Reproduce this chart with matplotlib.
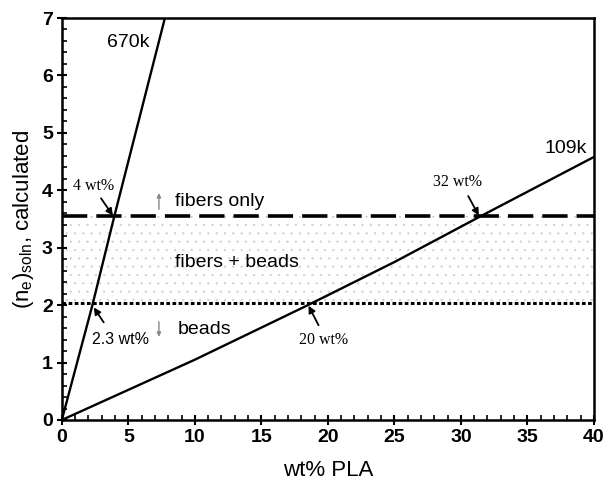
import numpy as np
import matplotlib.pyplot as plt
from matplotlib.ticker import MultipleLocator

# data
wt_670k = [0, 2.3, 3.95, 7.75]
ne_670k = [0, 2.0, 3.55, 7.0]

wt_109k = [0, 10, 18.5, 25, 31.5, 40]
ne_109k = [0, 1.05, 2.0, 2.75, 3.55, 4.58]

ne_fibers = 3.55   # fibers only above
ne_beads = 2.03    # beads below

# crossing labels: text, text position, arrow start, arrow tip
cross_txt = ["4 wt%", "32 wt%", "2.3 wt%", "20 wt%"]
cross_pos = [(2.4, 4.07), (29.75, 4.15), (4.4, 1.40), (19.7, 1.40)]
cross_from = [(2.95, 3.86), (30.55, 3.90), (3.15, 1.70), (19.3, 1.65)]
cross_to = [(3.84, 3.56), (31.35, 3.56), (2.4, 1.96), (18.55, 1.99)]

plt.rcParams['font.family'] = ['Liberation Sans', 'DejaVu Sans']
plt.rcParams['hatch.linewidth'] = 0.4

fig = plt.figure(figsize=(6.06, 4.8), dpi=100)
ax = fig.add_axes([0.102, 0.125, 0.878, 0.8375])

# speckled band between the two limits
ax.fill_between([0, 40], ne_beads, ne_fibers, facecolor='white',
                edgecolor='#cfcfcf', hatch='..', linewidth=0)

ax.plot([0, 40], [ne_fibers, ne_fibers], color='black', lw=2.6,
        dashes=(7, 2.5))
ax.plot([0, 40], [ne_beads, ne_beads], color='black', lw=2.2,
        dashes=(1.2, 0.8))

ax.plot(wt_670k, ne_670k, color='black', lw=1.7)
ax.plot(wt_109k, ne_109k, color='black', lw=1.7)

ax.text(5.0, 6.57, "670k", fontsize=14, ha='center', va='center')
ax.text(37.9, 4.73, "109k", fontsize=14, ha='center', va='center')
ax.text(11.85, 3.80, "fibers only", fontsize=14, ha='center', va='center')
ax.text(13.2, 2.75, "fibers + beads", fontsize=14, ha='center', va='center')
ax.text(10.7, 1.58, "beads", fontsize=14, ha='center', va='center')

serif = ['Liberation Serif', 'DejaVu Serif']
arr = dict(arrowstyle='-|>', color='black', lw=1.3, mutation_scale=10,
           shrinkA=0, shrinkB=0)
for txt, pos, p0, p1 in zip(cross_txt, cross_pos, cross_from, cross_to):
    fam = ['Liberation Sans', 'DejaVu Sans'] if txt == "2.3 wt%" else serif
    ax.text(pos[0], pos[1], txt, fontsize=11.5, family=fam,
            ha='center', va='center')
    ax.annotate("", xy=p1, xytext=p0, arrowprops=arr)

# small up / down markers next to region labels
gray_arr = dict(arrowstyle='-|>', color='#888888', lw=1.0, mutation_scale=6)
ax.annotate("", xy=(7.3, 4.0), xytext=(7.3, 3.62), arrowprops=gray_arr)
ax.annotate("", xy=(7.3, 1.40), xytext=(7.3, 1.76), arrowprops=gray_arr)

ax.set_xlim(0, 40)
ax.set_ylim(0, 7)
ax.xaxis.set_major_locator(MultipleLocator(5))
ax.xaxis.set_minor_locator(MultipleLocator(1))
ax.yaxis.set_major_locator(MultipleLocator(1))
ax.yaxis.set_minor_locator(MultipleLocator(0.2))
ax.tick_params(which='major', direction='inout', length=7, width=1.5,
               labelsize=14, pad=3)
ax.tick_params(which='minor', direction='in', length=3.5, width=1.2)
for lab in ax.get_xticklabels() + ax.get_yticklabels():
    lab.set_fontweight('bold')
for s in ax.spines.values():
    s.set_linewidth(1.8)

ax.set_xlabel("wt% PLA", fontsize=16, labelpad=10)
ax.set_ylabel(r"(n$_\mathregular{e}$)$_\mathregular{soln}$, calculated",
              fontsize=16, labelpad=4)

plt.savefig("out.png", dpi=100)
